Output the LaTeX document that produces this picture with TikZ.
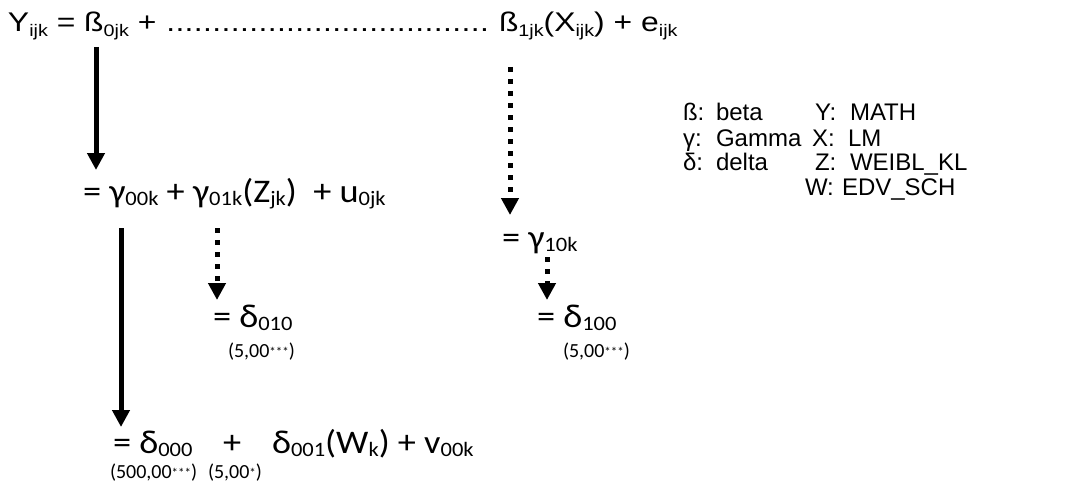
\documentclass[tikz,border=0pt]{standalone}
\usepackage{fontspec}
\usepackage{graphicx}
\setmainfont[FakeStretch=1.18]{Liberation Sans}
\newfontfamily\legfont{Liberation Sans}
\newfontfamily\calfont[FakeStretch=1.1]{Carlito}
\newfontfamily\estfont{Carlito}
\usetikzlibrary{arrows.meta}
\newcommand{\sbA}[1]{\raisebox{-0.17em}{\scalebox{0.62}{#1}}}
\newcommand{\sbB}[1]{\raisebox{-0.12em}{\scalebox{0.62}{#1}}}
\newcommand{\stars}[1]{\raisebox{0.05em}{\scalebox{0.65}{#1}}}
\begin{document}
\begin{tikzpicture}[x=1pt,y=-1pt,
  every node/.style={inner sep=0pt, outer sep=0pt, anchor=base west},
  topeq/.style={font=\fontsize{27}{32}\selectfont},
  loweq/.style={font=\calfont\fontsize{33}{38}\selectfont},
  est/.style={font=\estfont\fontsize{20}{24}\selectfont},
  legend/.style={font=\legfont\fontsize{24}{28}\selectfont},
  solidarrow/.style={line width=5pt, -{Triangle[width=17pt,length=17pt]}},
  dotarrow/.style={line width=5pt, dash pattern=on 5pt off 7pt, -{Triangle[width=17pt,length=17pt]}}]
\useasboundingbox (0,0) rectangle (1066,495);
% top equation
\node[topeq] (t1) at (8,32) {Y\sbA{ijk} = ß\sbA{0jk} +};
\node[topeq] (dots) at (166,32) {\hbox to 323pt{\xleaders\hbox to 9pt{\hss.\hss}\hfill}};
\node[topeq] (t2) at (499,32) {ß\sbA{1jk}(X\sbA{ijk}) + e\sbA{ijk}};
% lower equations
\node[loweq] (ra) at (83,202) {= γ\sbB{00k} + γ\sbB{01k}(Z\sbB{jk})\ \ + u\sbB{0jk}};
\node[loweq] (rb) at (213,327) {= δ\sbB{010}};
\node[est] (rbs) at (228,357) {(5,00\stars{***})};
\node[loweq] (rc) at (502,248) {= γ\sbB{10k}};
\node[loweq] (rd) at (537,327) {= δ\sbB{100}};
\node[est] (rds) at (563,357) {(5,00\stars{***})};
\node[loweq] (re1) at (113,453) {= δ\sbB{000}};
\node[loweq] (re2) at (223,453) {+};
\node[loweq] (re3) at (272,453) {δ\sbB{001}(W\sbB{k}) + v\sbB{00k}};
\node[est] (re1s) at (110,478) {(500,00\stars{***})};
\node[est] (re3s) at (208,478) {(5,00\stars{*})};
% legend
\node[legend] (l1a) at (683,121) {ß:};
\node[legend] (l1b) at (716,121) {beta};
\node[legend] (l2a) at (683,146) {γ:};
\node[legend] (l2b) at (716,146) {Gamma};
\node[legend] (l3a) at (683,170) {δ:};
\node[legend] (l3b) at (716,170) {delta};
\node[legend] (l1c) at (815,121) {Y:};
\node[legend] (l1d) at (850,121) {MATH};
\node[legend] (l2c) at (812,146) {X:};
\node[legend] (l2d) at (848,146) {LM};
\node[legend] (l3c) at (815,170) {Z:};
\node[legend] (l3d) at (850,170) {WEIBL\_KL};
\node[legend] (l4c) at (805,195) {W:};
\node[legend] (l4d) at (842,195) {EDV\_SCH};
% arrows
\coordinate (a1s) at (96,47);  \coordinate (a1e) at (96,170);
\coordinate (a2s) at (510,67); \coordinate (a2e) at (510,215);
\coordinate (a3s) at (121,228); \coordinate (a3e) at (121,427);
\coordinate (a4s) at (217,228); \coordinate (a4e) at (217,300);
\coordinate (a5s) at (547,257); \coordinate (a5e) at (547,300);
\draw[solidarrow] (a1s) -- (a1e);
\draw[dotarrow] (a2s) -- (a2e);
\draw[solidarrow] (a3s) -- (a3e);
\draw[dotarrow] (a4s) -- (a4e);
\draw[dotarrow] (a5s) -- (a5e);
\end{tikzpicture}
\end{document}
